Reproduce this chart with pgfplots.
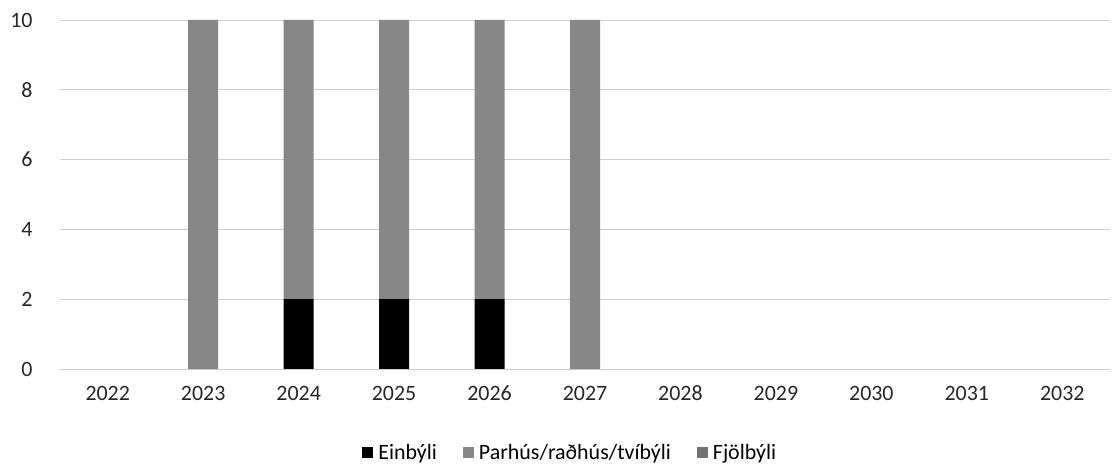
\documentclass[border=0pt]{standalone}
\usepackage{fontspec}
\setmainfont{Carlito}
\usepackage{pgfplots}
\pgfplotsset{compat=1.18}
\definecolor{barg}{RGB}{135,135,135}
\definecolor{gridg}{RGB}{205,205,205}
\begin{document}
\begin{tikzpicture}
\begin{axis}[
  at={(0,0)}, anchor=south west,
  scale only axis, width=1050bp, height=349bp,
  ybar stacked, bar width=30bp,
  xmin=-0.5, xmax=10.5, ymin=0, ymax=10,
  xtick={0,...,10},
  xticklabels={2022,2023,2024,2025,2026,2027,2028,2029,2030,2031,2032},
  ytick={0,2,4,6,8,10},
  /pgf/number format/assume math mode=true,
  ymajorgrids, grid style={gridg, line width=0.6pt},
  axis line style={draw=none},
  major tick length=0pt,
  xticklabel style={font=\fontsize{22}{26}\selectfont, text=black!85, anchor=base, text height=14bp, text depth=0bp, yshift=-32bp},
  yticklabel style={font=\fontsize{22}{26}\selectfont, text=black!85, anchor=east, xshift=-24bp},
  legend style={at={(0.486,-0.24)}, anchor=center, draw=none, fill=none,
    legend columns=3, font=\fontsize{22}{26}\selectfont,
    /tikz/every odd column/.append style={column sep=3bp},
    /tikz/every even column/.append style={column sep=24bp}},
  legend image code/.code={\fill[#1] (0bp,-5bp) rectangle (11bp,6bp);},
]
\addplot[fill=black, draw=none] coordinates {(0,0) (1,0) (2,2) (3,2) (4,2) (5,0) (6,0) (7,0) (8,0) (9,0) (10,0)};
\addplot[fill=barg, draw=none] coordinates {(0,0) (1,10) (2,8) (3,8) (4,8) (5,10) (6,0) (7,0) (8,0) (9,0) (10,0)};
\addplot[fill=barg!85!black, draw=none] coordinates {(0,0) (1,0) (2,0) (3,0) (4,0) (5,0) (6,0) (7,0) (8,0) (9,0) (10,0)};
\legend{Einbýli, Parhús/raðhús/tvíbýli, Fjölbýli}
\end{axis}
\path[use as bounding box] (-60bp,-95bp) rectangle (1054bp,369bp);
\end{tikzpicture}
\end{document}
